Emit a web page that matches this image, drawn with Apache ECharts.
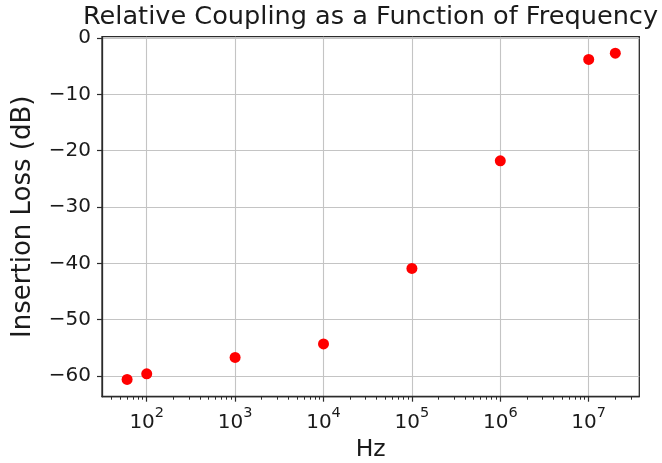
<!DOCTYPE html>
<html>
<head>
<meta charset="utf-8">
<script src="https://cdn.jsdelivr.net/npm/echarts@6/dist/echarts.min.js"></script>
<style>
  html, body { margin: 0; padding: 0; background: #ffffff; }
  #chart { width: 662px; height: 463px; }
</style>
</head>
<body>
<div id="chart"></div>
<script>
// Measured insertion loss at each test frequency
const freqHz = [60, 100, 1000, 10000, 100000, 1000000, 10000000, 20000000];
const lossDb = [-60.6, -59.6, -56.7, -54.3, -40.9, -21.8, -3.8, -2.7];

// Axis ranges and tick positions
const xRange = [31.2, 3.736e7];
const yRange = [-63.67, 0.23];
const xMajorTicks = [1e2, 1e3, 1e4, 1e5, 1e6, 1e7];
const yTicks = [-60, -50, -40, -30, -20, -10, 0];

// Minor log ticks at 2..9 times each decade, inside the x range
const xMinorTicks = [];
for (let d = 10; d <= 1e7; d *= 10) {
  for (let m = 2; m <= 9; m++) {
    const v = m * d;
    if (v > xRange[0] && v < xRange[1]) xMinorTicks.push(v);
  }
}

const FONT = 'DejaVu Sans';
const INK = '#1a1a1a';
const FRAME = '#2b2b2b';
const GRID = { left: 102, right: 22.7, top: 36.7, bottom: 66.3 };
const plotHeight = 463 - GRID.top - GRID.bottom;

const chart = echarts.init(document.getElementById('chart'), null, { renderer: 'canvas' });

chart.setOption({
  backgroundColor: '#ffffff',
  animation: false,
  title: {
    text: 'Relative Coupling as a Function of Frequency',
    left: 370.5,
    top: 4,
    padding: 0,
    textAlign: 'center',
    textStyle: { fontFamily: FONT, fontSize: 25.6, fontWeight: 'normal', color: INK }
  },
  grid: {
    left: GRID.left, right: GRID.right, top: GRID.top, bottom: GRID.bottom,
    outerBoundsMode: 'none',
    containLabel: false,
    show: true, borderColor: FRAME, borderWidth: 1.3, backgroundColor: 'transparent'
  },
  xAxis: [
    {
      type: 'log',
      logBase: 10,
      position: 'bottom',
      min: xRange[0],
      max: xRange[1],
      name: 'Hz',
      nameLocation: 'middle',
      nameGap: 40,
      nameTextStyle: { fontFamily: FONT, fontSize: 23.5, color: INK },
      axisLine: { show: true, onZero: false, lineStyle: { color: FRAME, width: 1.3 } },
      axisTick: { show: true, length: 5, lineStyle: { color: FRAME, width: 1.2 }, customValues: xMajorTicks },
      axisLabel: {
        customValues: xMajorTicks,
        margin: 9,
        formatter: function (v) {
          const e = Math.round(Math.log10(v));
          return '{b|10}{s|' + e + '}';
        },
        rich: {
          b: { fontFamily: FONT, fontSize: 20, color: INK, lineHeight: 27, verticalAlign: 'bottom' },
          s: { fontFamily: FONT, fontSize: 14.5, color: INK, lineHeight: 15, verticalAlign: 'top' }
        }
      },
      splitLine: { show: true, lineStyle: { color: '#c4c4c4', width: 1.1 } }
    },
    {
      // minor ticks: a top-side axis shifted down onto the bottom edge
      type: 'log',
      logBase: 10,
      position: 'top',
      offset: -plotHeight,
      min: xRange[0],
      max: xRange[1],
      axisLine: { show: false },
      axisTick: { show: true, inside: true, length: 3, lineStyle: { color: FRAME, width: 1 }, customValues: xMinorTicks },
      axisLabel: { show: false },
      splitLine: { show: false }
    }
  ],
  yAxis: {
    type: 'value',
    min: yRange[0],
    max: yRange[1],
    name: 'Insertion Loss (dB)',
    nameLocation: 'middle',
    nameGap: 66,
    nameTextStyle: { fontFamily: FONT, fontSize: 26, color: INK },
    axisLine: { show: true, onZero: false, lineStyle: { color: FRAME, width: 1.3 } },
    axisTick: { show: true, length: 5, lineStyle: { color: FRAME, width: 1.2 }, customValues: yTicks },
    axisLabel: {
      customValues: yTicks,
      margin: 11,
      fontFamily: FONT,
      fontSize: 20,
      color: INK,
      formatter: function (v) { return v < 0 ? '\u2212' + Math.abs(v) : String(v); }
    },
    splitLine: { show: true, lineStyle: { color: '#c4c4c4', width: 1.1 } }
  },
  series: [
    {
      type: 'scatter',
      xAxisIndex: 0,
      data: freqHz.map((f, i) => [f, lossDb[i]]),
      symbol: 'circle',
      symbolSize: 11,
      itemStyle: { color: '#ff0000', opacity: 1 },
      z: 5
    }
  ]
});
</script>
</body>
</html>
